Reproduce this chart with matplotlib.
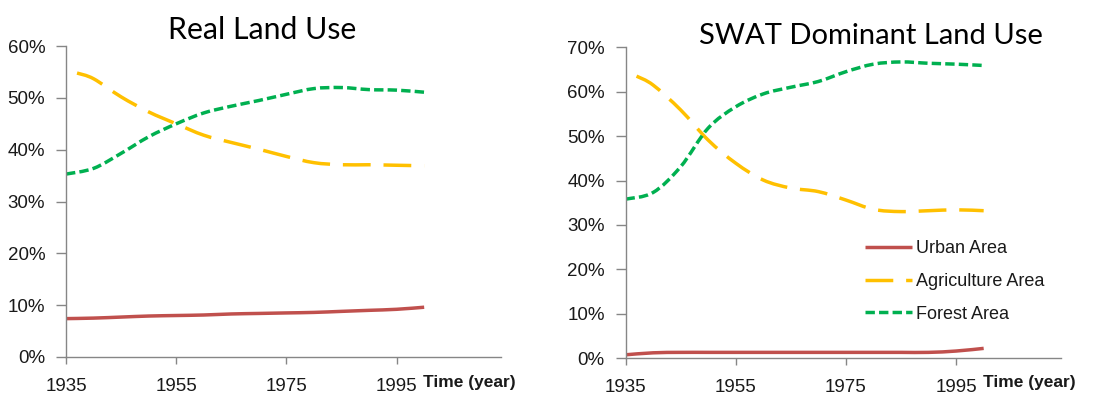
import matplotlib
matplotlib.use('Agg')
import matplotlib.pyplot as plt
from matplotlib.lines import Line2D
from matplotlib.patches import PathPatch
from matplotlib.path import Path
from matplotlib.ticker import PercentFormatter

years = [1935, 1940, 1945, 1950, 1955, 1960, 1965, 1970, 1975, 1980, 1985, 1990, 1995, 2000]
# agriculture series start a little after 1935
years_agri = [1937, 1940, 1945, 1950, 1955, 1960, 1965, 1970, 1975, 1980, 1985, 1990, 1995, 2000]

# Real land use (fractions)
real_urban = [0.074, 0.075, 0.077, 0.079, 0.080, 0.081, 0.083, 0.084, 0.085, 0.086, 0.088, 0.090, 0.092, 0.096]
real_agri = [0.548, 0.537, 0.502, 0.473, 0.450, 0.428, 0.414, 0.401, 0.387, 0.375, 0.371, 0.371, 0.370, 0.369]
real_forest = [0.353, 0.364, 0.393, 0.425, 0.450, 0.471, 0.484, 0.495, 0.507, 0.518, 0.520, 0.516, 0.515, 0.511]

# SWAT dominant land use (fractions)
swat_urban = [0.0075, 0.012, 0.013, 0.013, 0.013, 0.013, 0.013, 0.013, 0.013, 0.013, 0.013, 0.013, 0.016, 0.022]
swat_agri = [0.635, 0.615, 0.559, 0.491, 0.439, 0.401, 0.383, 0.375, 0.356, 0.335, 0.330, 0.332, 0.334, 0.332]
swat_forest = [0.358, 0.373, 0.431, 0.518, 0.566, 0.595, 0.610, 0.623, 0.645, 0.662, 0.667, 0.664, 0.662, 0.659]

labels = ["Urban Area", "Agriculture Area", "Forest Area"]
x_ticks = [1935, 1955, 1975, 1995]

RED = "#C0504D"
YELLOW = "#FFC000"
GREEN = "#00B050"
AXIS_GREY = "#868686"
TEXT = "#1a1a1a"
LW = 2.5
STYLES = [
    (RED, "solid"),
    (YELLOW, (0, (8.0, 3.7))),
    (GREEN, (0, (2.7, 1.2))),
]

plt.rcParams['font.family'] = ['Liberation Sans', 'DejaVu Sans']

fig = plt.figure(figsize=(11.19, 3.94), dpi=100)
ax_l = fig.add_axes([0.059, 0.094, 0.389, 0.789])
ax_r = fig.add_axes([0.559, 0.091, 0.389, 0.789])


def smooth_path(xs, ys):
    # Excel-style smoothed line: cubic Bezier through every data point
    pts = list(zip(xs, ys))
    verts = [pts[0]]
    codes = [Path.MOVETO]
    n = len(pts)
    for i in range(n - 1):
        p0 = pts[i - 1] if i > 0 else pts[i]
        p1 = pts[i]
        p2 = pts[i + 1]
        p3 = pts[i + 2] if i + 2 < n else pts[i + 1]
        c1 = (p1[0] + (p2[0] - p0[0]) / 6, p1[1] + (p2[1] - p0[1]) / 6)
        c2 = (p2[0] - (p3[0] - p1[0]) / 6, p2[1] - (p3[1] - p1[1]) / 6)
        verts += [c1, c2, p2]
        codes += [Path.CURVE4] * 3
    return Path(verts, codes)


def draw_panel(ax, urban, agri, forest, ymax):
    series = [(years, urban), (years_agri, agri), (years, forest)]
    for (xs, ys), (color, ls) in zip(series, STYLES):
        ax.add_patch(PathPatch(smooth_path(xs, ys), facecolor="none", edgecolor=color,
                               linewidth=LW, linestyle=ls, capstyle='butt'))

    ax.set_xlim(1935, 2014)
    ax.set_ylim(0, ymax)
    ax.set_xticks(x_ticks)
    ax.set_yticks([i / 10 for i in range(int(round(ymax * 10)) + 1)])
    ax.yaxis.set_major_formatter(PercentFormatter(1.0, decimals=0))

    for side in ("top", "right"):
        ax.spines[side].set_visible(False)
    for side in ("left", "bottom"):
        ax.spines[side].set_color(AXIS_GREY)
        ax.spines[side].set_linewidth(1.0)

    ax.tick_params(axis='x', direction='out', length=5, width=1, color=AXIS_GREY,
                   pad=10, labelsize=13.5, labelcolor=TEXT)
    ax.tick_params(axis='y', direction='out', length=7, width=1, color=AXIS_GREY,
                   pad=8, labelsize=13.5, labelcolor=TEXT)
    ax.set_facecolor("none")


draw_panel(ax_l, real_urban, real_agri, real_forest, 0.6)
draw_panel(ax_r, swat_urban, swat_agri, swat_forest, 0.7)

# Titles
fig.text(0.234, 0.900, "Real Land Use", ha='center', va='baseline',
         fontsize=21.8, family=['Lato', 'DejaVu Sans'], color="black")
fig.text(0.778, 0.888, "SWAT Dominant Land Use", ha='center', va='baseline',
         fontsize=21, family=['Lato', 'DejaVu Sans'], color="black")

# Axis label at the end of each x axis
fig.text(423 / 1119, 0.018, "Time (year)", ha='left', va='baseline',
         fontsize=12.5, fontweight='bold', color=TEXT)
fig.text(983 / 1119, 0.018, "Time (year)", ha='left', va='baseline',
         fontsize=12.5, fontweight='bold', color=TEXT)

# Legend inside the right panel
handles = [Line2D([], [], color=c, linewidth=LW, linestyle=ls, solid_capstyle='butt')
           for c, ls in STYLES]
ax_r.legend(handles, labels, loc='upper left', bbox_to_anchor=(865 / 1119, 1 - 240 / 394),
            bbox_transform=fig.transFigure, frameon=False, fontsize=13,
            handlelength=2.6, handletextpad=0.25, labelspacing=0.88,
            borderpad=0, borderaxespad=0, labelcolor=TEXT)

fig.savefig("out.png", dpi=100)
